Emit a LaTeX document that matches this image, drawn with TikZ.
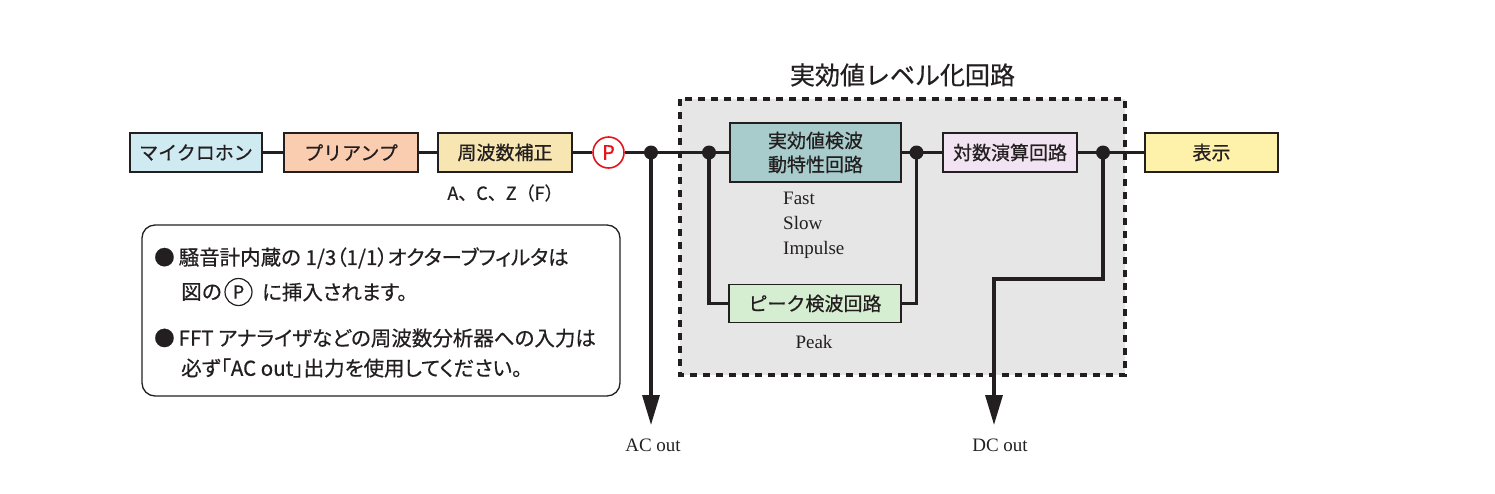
\documentclass[tikz,border=0pt]{standalone}
\usepackage{fontspec}
\setmainfont{Liberation Serif}
\newfontfamily\jp[FakeBold=0.6]{Noto Sans CJK JP}
\newfontfamily\jpp[FakeBold=0.6,RawFeature=+palt]{Noto Sans CJK JP}
\usetikzlibrary{arrows.meta}
\definecolor{ink}{HTML}{231F20}
\definecolor{cmic}{HTML}{CFEAF1}
\definecolor{cpre}{HTML}{FBCDB0}
\definecolor{ceq}{HTML}{F8E6B2}
\definecolor{crms}{HTML}{A8CBCC}
\definecolor{clog}{HTML}{F1E3F1}
\definecolor{cdisp}{HTML}{FEF1AA}
\definecolor{cpeak}{HTML}{D5EDD0}
\definecolor{cgray}{HTML}{E6E6E6}
\definecolor{cred}{HTML}{E8141C}
\begin{document}
\begin{tikzpicture}[x=1pt,y=-1pt,
  blk/.style={draw=ink, line width=1.8pt, minimum height=39pt, inner sep=0pt,
    font=\jp\fontsize{19}{24}\selectfont, text=ink, align=center},
  wire/.style={draw=ink, line width=3.3pt, line join=miter},
  tip/.style={-{Triangle[length=30pt,width=17pt]}},
  dot/.style={circle, fill=ink, minimum size=14pt, inner sep=0pt},
  lab/.style={font=\fontsize{19}{22}\selectfont, text=ink, inner sep=0pt},
  jplab/.style={font=\jp\fontsize{18}{22}\selectfont, text=ink, inner sep=0pt},
  notetext/.style={font=\jpp\fontsize{20.5}{24}\selectfont, text=ink, inner sep=0pt},
]
\useasboundingbox (0,0) rectangle (1495,493);
% region
\fill[cgray] (680,99) rectangle (1125,375);
\draw[ink, line width=3.5pt, dash pattern=on 7pt off 6pt] (680,99) rectangle (1125,375);
\node[font=\jp\fontsize{25}{30}\selectfont, text=ink] (title) at (902.5,75) {実効値レベル化回路};

% note box
\draw[ink, line width=1.3pt, rounded corners=13pt] (142,225) rectangle (620,396);
\node[notetext, anchor=west] (n1) at (154,258) {●\hspace{4pt}騒音計内蔵の 1/3（1/1）オクターブフィルタは};
\node[notetext, font=\jp\fontsize{20.5}{24}\selectfont, anchor=west] (n2a) at (181,292) {図の};
\node[circle, draw=ink, line width=1.2pt, minimum size=27pt, inner sep=0pt, font=\jp\fontsize{18}{20}\selectfont, text=ink] (n2p) at (238.5,292) {P};
\node[notetext, anchor=west] (n2b) at (262,292) {に挿入されます。};
\node[notetext, anchor=west] (n3) at (154,338) {●\hspace{4pt}FFT アナライザなどの周波数分析器への入力は};
\node[notetext, anchor=west] (n4) at (181,368) {必ず「AC out」出力を使用してください。};

% blocks
\node[blk, fill=cmic, minimum width=132pt] (mic) at (196,152.5) {マイクロホン};
\node[blk, fill=cpre, minimum width=134pt] (pre) at (351,152.5) {プリアンプ};
\node[blk, fill=ceq, minimum width=134pt] (eq) at (505,152.5) {周波数補正};
\node[jplab] (eqlab) at (505,193) {A、C、Z（F）};
\node[circle, draw=cred, line width=1.6pt, fill=white, minimum size=31pt, inner sep=0pt,
  font=\jp\fontsize{20}{24}\selectfont, text=cred] (P) at (608.5,152.5) {P};
\node[dot] (j1) at (651,152.5) {};
\node[dot] (j2) at (709,152.5) {};
\node[blk, fill=crms, minimum width=171pt, minimum height=59pt] (rms) at (815.5,152.5) {実効値検波\\動特性回路};
\node[dot] (j3) at (916.5,152.5) {};
\node[blk, fill=clog, minimum width=134pt] (log) at (1010,152.5) {対数演算回路};
\node[dot] (j4) at (1103,152.5) {};
\node[blk, fill=cdisp, minimum width=133pt] (disp) at (1211.5,152.5) {表示};
\node[blk, fill=cpeak, minimum width=172pt, minimum height=38pt] (peak) at (815,303.5) {ピーク検波回路};

\node[lab, anchor=base west] (fast) at (783,204) {Fast};
\node[lab, anchor=base west] (slow) at (783,229) {Slow};
\node[lab, anchor=base west] (imp) at (783,254) {Impulse};
\node[lab, anchor=base] (pk) at (814,348.5) {Peak};
\node[lab, anchor=base] (ac) at (653,451.5) {AC out};
\node[lab, anchor=base] (dc) at (1000,451.5) {DC out};

\coordinate (acend) at (651,425);
\coordinate (dc1) at (1103,279);
\coordinate (dc2) at (994,279);
\coordinate (dcend) at (994,425);

% wires
\draw[wire] (mic) -- (pre);
\draw[wire] (pre) -- (eq);
\draw[wire] (eq) -- (P);
\draw[wire] (P) -- (j1.center) -- (j2.center) -- (rms);
\draw[wire] (rms) -- (j3.center) -- (log);
\draw[wire] (log) -- (j4.center) -- (disp);
\draw[wire] (j2.center) |- (peak.west);
\draw[wire] (j3.center) |- (peak.east);
\draw[wire, tip] (j1.center) -- (acend);
\draw[wire, tip] (j4.center) -- (dc1) -- (dc2) -- (dcend);
\end{tikzpicture}
\end{document}
